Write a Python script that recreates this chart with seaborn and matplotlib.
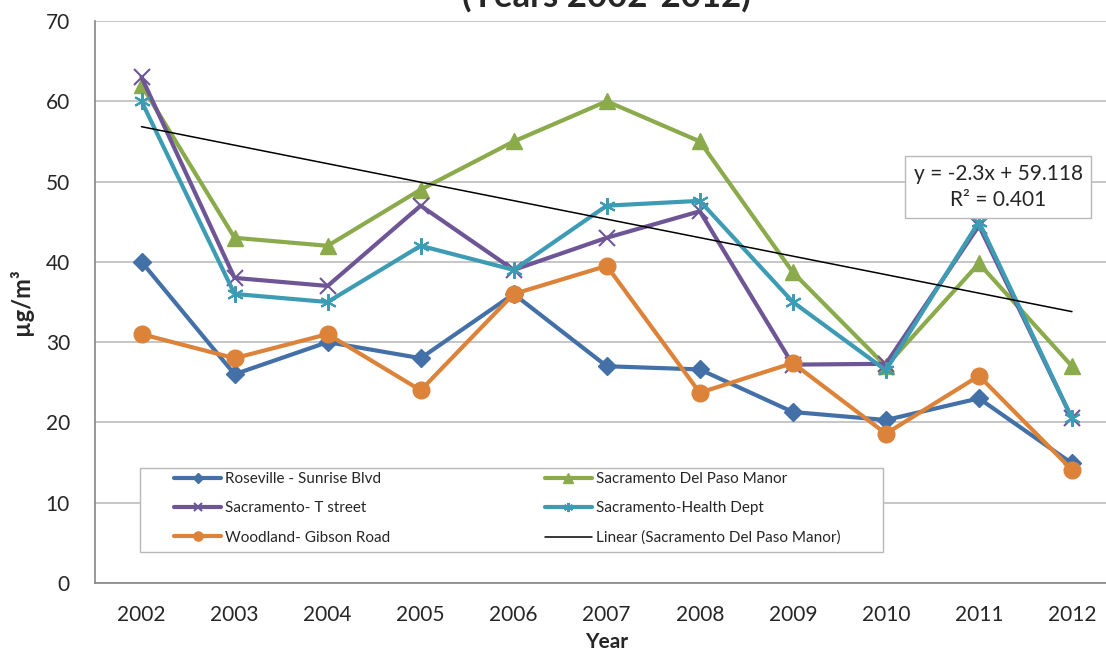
import numpy as np
import matplotlib
matplotlib.use('Agg')
import matplotlib.pyplot as plt
from matplotlib.patches import Rectangle
import seaborn as sns

# 数据
years = [2002, 2003, 2004, 2005, 2006, 2007, 2008, 2009, 2010, 2011, 2012]
roseville = [40, 26, 30, 28, 36, 27, 26.6, 21.3, 20.3, 23, 14.9]
del_paso = [62, 43, 42, 49, 55, 60, 55, 38.7, 27, 39.8, 27]
t_street = [63, 38, 37, 47, 39, 43, 46.3, 27.2, 27.3, 44.5, 20.5]
health = [60, 36, 35, 42, 39, 47, 47.6, 35, 26.5, 45, 20.5]
woodland = [31, 28, 31, 24, 36, 39.5, 23.7, 27.4, 18.6, 25.8, 14.1]

names = ['Roseville - Sunrise Blvd', 'Sacramento Del Paso Manor', 'Sacramento- T street',
         'Sacramento-Health Dept', 'Woodland- Gibson Road']
eq_text = 'y = -2.3x + 59.118\nR² = 0.401'

sns.set_style('white')
plt.rcParams['font.family'] = ['Lato', 'DejaVu Sans']

W, H = 1106, 653
fig = plt.figure(figsize=(W / 100, H / 100), dpi=100)
ax = fig.add_axes([95 / W, 70 / H, 1023.5 / W, 562 / H])

def ax_x(px):
    return (px - 95) / 1023.5

def ax_y(py):
    return (583 - py) / 562

series = [
    (roseville, names[0], '#4470a8', 'D', 9.5, 1),
    (del_paso, names[1], '#8aaa4b', '^', 12, 1),
    (t_street, names[2], '#6e5595', 'x', 11, 1.5),
    (health, names[3], '#3d9bb3', (6, 2, 0), 12, 1.5),
    (woodland, names[4], '#dd8239', 'o', 12, 1),
]
for vals, name, col, mk, ms, mew in series:
    sns.lineplot(x=years, y=vals, ax=ax, color=col, linewidth=3.0, marker=mk,
                 markersize=ms, markeredgewidth=mew, markeredgecolor=col,
                 label=name, zorder=3)

# 线性趋势线 (Del Paso Manor)
xi = np.arange(1, len(years) + 1)
k, b = np.polyfit(xi, del_paso, 1)
ax.plot(years, k * xi + b, color='black', linewidth=1.1, zorder=4,
        label='Linear (Sacramento Del Paso Manor)')

ax.set_xlim(2001.5, 2012.5)
ax.set_ylim(0, 70)
ax.set_yticks(range(0, 71, 10))
ax.set_xticks(years)
ax.set_xticks(np.arange(2001.5, 2013, 1), minor=True)
ax.tick_params(axis='x', which='major', length=0, pad=16, labelsize=15)
ax.tick_params(axis='x', which='minor', length=6, width=1, color='#868686', direction='out')
ax.tick_params(axis='y', length=6, width=1, color='#868686', direction='out', pad=12, labelsize=15)
ax.yaxis.grid(True, color='#c6c6c6', linewidth=1.4)
ax.set_axisbelow(True)
for s in ['top', 'right']:
    ax.spines[s].set_visible(False)
for s in ['left', 'bottom']:
    ax.spines[s].set_color('#868686')
    ax.spines[s].set_linewidth(1.2)

ax.set_xlabel('Year', fontsize=15, fontweight='bold', labelpad=5)
ax.set_ylabel('µg/m³', fontsize=17, fontweight='bold', labelpad=9)

# 图例框
ax.add_patch(Rectangle((ax_x(140), ax_y(552)), ax_x(883) - ax_x(140), ax_y(468) - ax_y(552),
                       transform=ax.transAxes, facecolor='white', edgecolor='#b8b8b8',
                       linewidth=1, zorder=6))
h, l = ax.get_legend_handles_labels()
order = [0, 2, 4, 1, 3, 5]
leg = ax.legend([h[i] for i in order], [l[i] for i in order], ncol=2, loc='upper left',
                bbox_to_anchor=(ax_x(174), ax_y(472)), borderaxespad=0, borderpad=0,
                fontsize=11, markerscale=0.55, handlelength=3.1, handletextpad=0.25,
                columnspacing=10.1, labelspacing=1.0, frameon=False)
leg.set_zorder(7)

ax.text(ax_x(998), ax_y(187), eq_text, ha='center', va='center', transform=ax.transAxes,
        fontsize=15, linespacing=1.35,
        bbox=dict(boxstyle='square,pad=0.4', facecolor='white', edgecolor='#b8b8b8', linewidth=1),
        zorder=5)

fig.text(606 / W, 1.006, '(Years 2002-2012)', ha='center', va='center',
         fontsize=25, fontweight='bold')

fig.savefig('out.png', dpi=100)
